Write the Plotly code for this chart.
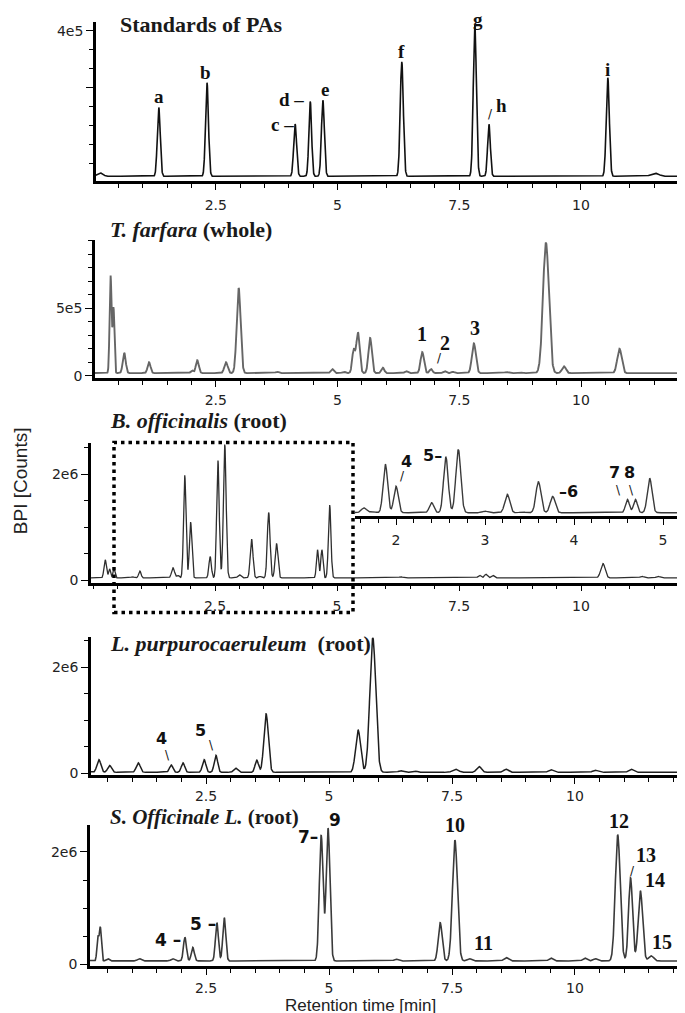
import numpy as np
import plotly.graph_objects as go

W, H = 685, 1013

# ---------------- data ----------------
# Panel 1 : Standards of PAs  (retention time [min], peak top [counts], peak sigma [min])
std_rt   = [0.12, 1.33, 2.32, 4.13, 4.44, 4.70, 6.32, 7.82, 8.11, 10.55, 11.52]
std_top  = [2.4e4, 1.97e5, 2.63e5, 1.53e5, 2.13e5, 2.16e5, 3.18e5, 4.16e5, 1.53e5, 2.76e5, 2.3e4]
std_sig  = [0.06, 0.03, 0.03, 0.03, 0.028, 0.03, 0.032, 0.032, 0.028, 0.032, 0.08]
std_base = 1.5e4

# Panel 2 : T. farfara (whole)
tf_rt   = [0.34, 0.40, 0.62, 1.13, 2.01, 2.12, 2.71, 2.97, 3.76, 4.89, 5.13, 5.33, 5.42,
           5.67, 5.93, 6.41, 6.74, 6.92, 7.20, 7.37, 7.80, 8.47, 8.74, 9.28, 9.65, 10.79]
tf_top  = [7.4e5, 5.0e5, 1.7e5, 1.0e5, 0.4e5, 1.15e5, 1.0e5, 6.5e5, 0.3e5, 0.5e5, 0.3e5, 1.85e5, 3.2e5,
           2.8e5, 0.6e5, 0.35e5, 1.75e5, 0.5e5, 0.35e5, 0.3e5, 2.4e5, 0.28e5, 0.28e5, 9.85e5, 0.7e5, 2.0e5]
tf_sig  = [0.02, 0.018, 0.03, 0.03, 0.025, 0.03, 0.035, 0.04, 0.03, 0.03, 0.03, 0.03, 0.035,
           0.035, 0.03, 0.03, 0.035, 0.03, 0.03, 0.03, 0.04, 0.04, 0.04, 0.06, 0.04, 0.045]
tf_base = 2.0e4

# Panel 3 : B. officinalis (root)
bo_rt   = [0.25, 0.34, 0.43, 0.81, 0.96, 1.64, 1.74, 1.88, 2.00, 2.40, 2.56, 2.70, 3.00, 3.25,
           3.42, 3.60, 3.76, 4.60, 4.69, 4.85, 6.31, 7.92, 8.05, 8.19, 9.30, 10.45, 11.25, 11.58, 12.13]
bo_top  = [0.39e6, 0.22e6, 0.22e6, 0.07e6, 0.18e6, 0.24e6, 0.10e6, 1.98e6, 1.10e6, 0.45e6, 2.26e6,
           2.56e6, 0.11e6, 0.78e6, 0.08e6, 1.28e6, 0.70e6, 0.58e6, 0.58e6, 1.42e6, 0.07e6, 0.10e6,
           0.12e6, 0.10e6, 0.06e6, 0.32e6, 0.08e6, 0.08e6, 0.06e6]
bo_sig  = [0.025, 0.02, 0.02, 0.03, 0.025, 0.03, 0.025, 0.025, 0.025, 0.025, 0.026, 0.028, 0.03,
           0.028, 0.03, 0.028, 0.028, 0.022, 0.022, 0.026, 0.04, 0.03, 0.03, 0.03, 0.04, 0.045, 0.04, 0.04, 0.04]
bo_base = 0.05e6

# Panel 4 : L. purpurocaeruleum (root)
lp_rt   = [0.32, 0.54, 1.12, 1.79, 2.03, 2.46, 2.70, 3.10, 3.53, 3.72, 5.59, 5.89, 6.46, 6.73,
           7.57, 8.05, 8.60, 9.51, 10.41, 11.14]
lp_top  = [0.26e6, 0.15e6, 0.20e6, 0.16e6, 0.20e6, 0.26e6, 0.34e6, 0.10e6, 0.25e6, 1.12e6, 0.82e6,
           2.55e6, 0.05e6, 0.05e6, 0.08e6, 0.13e6, 0.08e6, 0.07e6, 0.06e6, 0.08e6]
lp_sig  = [0.04, 0.04, 0.04, 0.035, 0.035, 0.035, 0.035, 0.04, 0.035, 0.045, 0.05, 0.06, 0.05, 0.05,
           0.06, 0.05, 0.05, 0.05, 0.05, 0.05]
lp_base = 0.02e6

# Panel 5 : S. Officinale L. (root)
so_rt   = [0.30, 0.35, 0.50, 1.14, 1.82, 2.07, 2.23, 2.72, 2.87, 4.84, 4.98, 6.36, 7.26, 7.56,
           7.85, 8.60, 9.51, 10.20, 10.41, 10.87, 11.13, 11.33, 11.55]
so_top  = [0.48e6, 0.65e6, 0.10e6, 0.10e6, 0.10e6, 0.48e6, 0.30e6, 0.74e6, 0.83e6, 2.30e6, 2.42e6,
           0.09e6, 0.74e6, 2.21e6, 0.10e6, 0.12e6, 0.11e6, 0.11e6, 0.10e6, 2.30e6, 1.54e6, 1.31e6, 0.15e6]
so_sig  = [0.02, 0.02, 0.03, 0.035, 0.035, 0.03, 0.03, 0.03, 0.03, 0.038, 0.038, 0.04, 0.04, 0.05,
           0.04, 0.045, 0.04, 0.04, 0.04, 0.05, 0.04, 0.045, 0.05]
so_base = 0.06e6

x_tickvals = [2.5, 5, 7.5, 10]
x_ticktext = ["2.5", "5", "7.5", "10"]
inset_tickvals = [2, 3, 4, 5]
inset_ticktext = ["2", "3", "4", "5"]

panel_titles = ["<b>Standards of PAs</b>",
                "<b><i>T. farfara</i> (whole)</b>",
                "<b><i>B. officinalis</i> (root)</b>",
                "<b><i>L. purpurocaeruleum</i> &nbsp;(root)</b>",
                "<b><i>S. Officinale L.</i> (root)</b>"]

# peak labels: (text, peak index, dx px, dy px)
std_labels = [("a", 1, 0, 11), ("b", 2, -1, 10), ("c –", 3, -13, 0), ("d –", 4, -19, 2),
              ("e", 5, 2, 11), ("f", 6, 0, 10), ("g", 7, 3, 5), ("h", 8, 13, 19), ("i", 9, 0, 8)]
std_marks = [("/", 8, 2, 10)]
tf_labels = [("1", 16, 0, 18), ("2", 17, 14, 26), ("3", 20, 1, 15)]
tf_marks = [("/", 17, 8, 11)]
bo_labels = [("4", 8, 10, 25), ("5–", 10, -13, 2), ("–6", 16, 16, 5), ("7", 17, -13, 27), ("8", 18, -6, 27)]
bo_marks = [("/", 8, 6, 10), ("\\", 17, -9, 9), ("\\", 18, -4, 9)]
lp_labels = [("4", 3, -10, 26), ("5", 6, -15, 25)]
lp_marks = [("\\", 3, -4, 10), ("\\", 6, -4, 10)]
so_labels_sans = [("4 –", 5, -17, -3), ("5 –", 7, -14, -1), ("7–", 9, -13, -2), ("9", 10, 7, 8)]
so_labels_serif = [("10", 13, 0, 15), ("11", 14, 14, 16), ("12", 19, 1, 14), ("13", 20, 15, 23),
                   ("14", 21, 15, 11), ("15", 22, 11, 14)]
so_marks = [("/", 20, 2, 7)]


def chrom(t, base, rts, tops, sigs):
    y = np.full_like(t, base)
    for c, h, s in zip(rts, tops, sigs):
        y = y + (h - base) * np.exp(-0.5 * ((t - c) / s) ** 2)
    return y


t = np.arange(-0.1, 12.5, 0.003)


def px_x(p):
    return p / W


def px_y(p):
    return 1 - p / H


# panel geometry (pixels)
panels = [
    dict(l=88, top=14, bot=174, xr=[0.041, 12.30], yr=[2.6e3, 4.237e5], so=3),
    dict(l=87, top=233, bot=372, xr=[0.02, 12.30], yr=[-1.47e4, 1.0074e6], so=2),
    dict(l=83, top=438, bot=578, xr=[-0.041, 12.295], yr=[-3.74e4, 2.579e6], so=3),
    dict(l=83, top=633, bot=772, xr=[0.16, 12.40], yr=[-3.74e4, 2.561e6], so=0),
    dict(l=82, top=822, bot=964, xr=[0.14, 12.40], yr=[-3.54e4, 2.478e6], so=1),
]
inset = dict(l=347, top=443, bot=511, xr=[1.539, 5.337], yr=[-7.9e4, 2.609e6])

ytick_cfg = [([2.5e5, 4e5], ["", "4e5"], 0.5e5),
             ([0, 5e5], ["0", "5e5"], 1e5),
             ([0, 2e6], ["0", "2e6"], 0.5e6),
             ([0, 2e6], ["0", "2e6"], 0.5e6),
             ([0, 2e6], ["0", "2e6"], 0.5e6)]

data_sets = [(std_base, std_rt, std_top, std_sig, "#111111", 1.6),
             (tf_base, tf_rt, tf_top, tf_sig, "#666666", 1.9),
             (bo_base, bo_rt, bo_top, bo_sig, "#2e2e2e", 1.3),
             (lp_base, lp_rt, lp_top, lp_sig, "#1e1e1e", 1.5),
             (so_base, so_rt, so_top, so_sig, "#3a3a3a", 1.6)]

fig = go.Figure()
layout = dict(width=W, height=H, margin=dict(l=0, r=0, t=0, b=0),
              paper_bgcolor="white", plot_bgcolor="white", showlegend=False)

tickfont = dict(family="DejaVu Sans", size=14, color="#222222")

for i, (p, (tv, tt, mdt), ds) in enumerate(zip(panels, ytick_cfg, data_sets)):
    n = i + 1
    xk = "xaxis" if n == 1 else f"xaxis{n}"
    yk = "yaxis" if n == 1 else f"yaxis{n}"
    xa = "x" if n == 1 else f"x{n}"
    ya = "y" if n == 1 else f"y{n}"
    layout[xk] = dict(domain=[px_x(p["l"]), 1], range=p["xr"], anchor=ya,
                      showline=True, linecolor="black", linewidth=2.6, mirror=False,
                      ticks="outside", ticklen=6, tickwidth=1.4, tickcolor="black",
                      tickmode="array", tickvals=x_tickvals, ticktext=x_ticktext,
                      tickfont=tickfont, ticklabelstandoff=p["so"], showgrid=False, zeroline=False,
                      minor=dict(ticks="outside", ticklen=4, tickwidth=1.2, tickcolor="black",
                                 tickmode="linear", tick0=0, dtick=0.5, showgrid=False))
    layout[yk] = dict(domain=[px_y(p["bot"]), px_y(p["top"])], range=p["yr"], anchor=xa,
                      showline=True, linecolor="black", linewidth=2.6,
                      ticks="outside", ticklen=7, tickwidth=1.4, tickcolor="black",
                      tickmode="array", tickvals=tv, ticktext=tt,
                      tickfont=tickfont, showgrid=False, zeroline=False,
                      minor=dict(ticks="outside", ticklen=4, tickwidth=1.2, tickcolor="black",
                                 tickmode="linear", tick0=0, dtick=mdt, showgrid=False))
    base, rts, tops, sigs, col, lw = ds
    fig.add_trace(go.Scatter(x=t, y=chrom(t, base, rts, tops, sigs), mode="lines",
                             line=dict(color=col, width=lw), xaxis=xa, yaxis=ya,
                             hoverinfo="skip"))

# inset of panel 3
layout["xaxis6"] = dict(domain=[px_x(inset["l"]), 1], range=inset["xr"], anchor="y6",
                        showline=True, linecolor="black", linewidth=2.6,
                        ticks="outside", ticklen=6, tickwidth=1.4, tickcolor="black",
                        tickmode="array", tickvals=inset_tickvals, ticktext=inset_ticktext,
                        tickfont=dict(family="DejaVu Sans", size=14, color="#222222"),
                        ticklabelstandoff=3, showgrid=False, zeroline=False,
                        minor=dict(ticks="outside", ticklen=4, tickwidth=1.2, tickcolor="black",
                                   tickmode="linear", tick0=0, dtick=0.2, showgrid=False))
layout["yaxis6"] = dict(domain=[px_y(inset["bot"]), px_y(inset["top"])], range=inset["yr"],
                        anchor="x6", visible=False)
fig.add_trace(go.Scatter(x=t, y=chrom(t, bo_base, bo_rt, bo_top, bo_sig), mode="lines",
                         line=dict(color="#3a3a3a", width=1.4), xaxis="x6", yaxis="y6",
                         hoverinfo="skip"))

annotations = []

# panel titles
title_pos = [(110, 17, 22), (100, 223, 22), (100, 415, 22), (100, 639, 22), (100, 814, 21)]
for txt, (px, py, fs) in zip(panel_titles, title_pos):
    annotations.append(dict(text=txt, xref="paper", yref="paper", x=px_x(px), y=px_y(py),
                            xanchor="left", yanchor="middle", showarrow=False,
                            font=dict(family="Liberation Serif", size=fs, color="#1a1a1a")))


def add_labels(lbls, rts, tops, xa, ya, font):
    for txt, idx, dx, dy in lbls:
        annotations.append(dict(text=txt, xref=xa, yref=ya, x=rts[idx], y=tops[idx],
                                xshift=dx, yshift=dy, xanchor="center", yanchor="middle",
                                showarrow=False, font=font))


serif_b19 = dict(family="Liberation Serif", size=19, color="#111111")
serif_b20 = dict(family="Liberation Serif", size=20, color="#111111")
sans_b16 = dict(family="DejaVu Sans", size=16, color="#111111")
sans_b17 = dict(family="DejaVu Sans", size=17, color="#111111")
mark_font = dict(family="DejaVu Sans", size=12, color="#111111")


def bold(lbls):
    return [("<b>" + a + "</b>", b, c, d) for a, b, c, d in lbls]


add_labels(bold(std_labels), std_rt, std_top, "x", "y", serif_b19)
add_labels(std_marks, std_rt, std_top, "x", "y", mark_font)
add_labels(bold(tf_labels), tf_rt, tf_top, "x2", "y2", serif_b20)
add_labels(tf_marks, tf_rt, tf_top, "x2", "y2", mark_font)
add_labels(bold(bo_labels), bo_rt, bo_top, "x6", "y6", sans_b16)
add_labels(bo_marks, bo_rt, bo_top, "x6", "y6", mark_font)
add_labels(bold(lp_labels), lp_rt, lp_top, "x4", "y4", sans_b16)
add_labels(lp_marks, lp_rt, lp_top, "x4", "y4", mark_font)
add_labels(bold(so_labels_sans), so_rt, so_top, "x5", "y5", sans_b17)
add_labels(bold(so_labels_serif), so_rt, so_top, "x5", "y5", serif_b20)
add_labels(so_marks, so_rt, so_top, "x5", "y5", mark_font)

# axis titles
annotations.append(dict(text="BPI [Counts]", xref="paper", yref="paper", x=px_x(12), y=px_y(476),
                        textangle=-90, showarrow=False, xanchor="center", yanchor="middle",
                        font=dict(family="Liberation Sans", size=19, color="#222222")))
annotations.append(dict(text="Retention time [min]", xref="paper", yref="paper", x=px_x(352),
                        y=px_y(1003), showarrow=False, xanchor="center", yanchor="middle",
                        font=dict(family="Liberation Sans", size=17, color="#222222")))

layout["annotations"] = annotations
layout["shapes"] = [dict(type="rect", xref="paper", yref="paper",
                         x0=px_x(106), x1=px_x(345), y0=px_y(608), y1=px_y(437),
                         line=dict(color="black", width=3.5, dash="3.5px,4px"))]

fig.update_layout(**layout)
fig.write_html("out.html")
